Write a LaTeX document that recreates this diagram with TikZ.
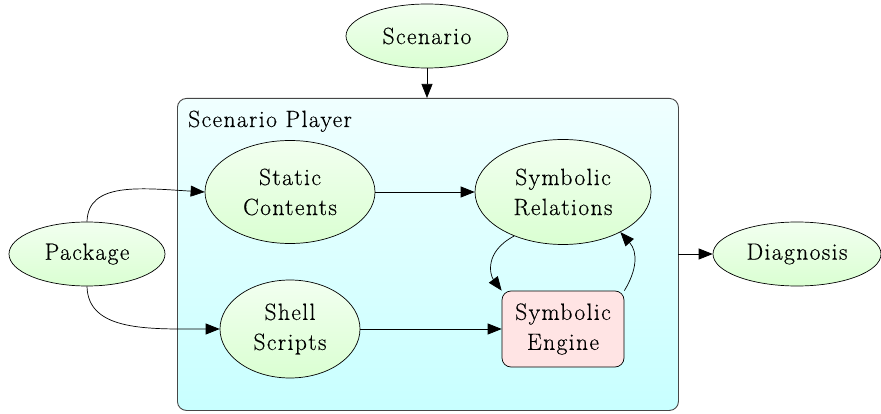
\documentclass[tikz,border=0pt]{standalone}
\usepackage{fontspec}
\setmainfont{Latin Modern Roman}[LetterSpace=6,FakeBold=0.4]
\usetikzlibrary{arrows.meta,shapes.geometric}
\definecolor{gtop}{RGB}{242,255,240}
\definecolor{gbot}{RGB}{218,255,210}
\definecolor{ctop}{RGB}{240,255,255}
\definecolor{cbot}{RGB}{200,255,255}
\definecolor{pinkfill}{RGB}{255,228,228}
\definecolor{clborder}{RGB}{70,70,70}
\tikzset{
  gv/.style={font=\fontsize{23.5}{30}\selectfont, align=center, inner sep=0pt},
  ell/.style={gv, ellipse, draw=black, line width=0.7pt, top color=gtop, bottom color=gbot},
  boxnode/.style={gv, rectangle, rounded corners=9pt, draw=black, line width=0.7pt, fill=pinkfill},
  cluster/.style={rectangle, rounded corners=9pt, draw=clborder, line width=0.9pt, top color=ctop, bottom color=cbot},
  edge/.style={line width=0.7pt, -{Triangle[length=14pt,width=11pt]}}
}
\begin{document}
\begin{tikzpicture}[x=1pt,y=-1pt]
\useasboundingbox (0,0) rectangle (881,414);
\node[cluster, minimum width=501pt, minimum height=312pt, anchor=north west] (cl) at (177,98) {};
\node[gv, anchor=base west] (cllabel) at (188,127) {Scenario Player};
\node[ell, minimum width=162pt, minimum height=64pt] (scen) at (427,36) {Scenario};
\node[ell, minimum width=156pt, minimum height=64pt] (pkg) at (87,254) {Package};
\node[ell, minimum width=170pt, minimum height=103pt] (stat) at (290,192) {Static\\Contents};
\node[ell, minimum width=176pt, minimum height=105pt] (rel) at (563,192) {Symbolic\\Relations};
\node[ell, minimum width=140pt, minimum height=98pt] (shell) at (290,329) {Shell\\Scripts};
\node[boxnode, minimum width=122pt, minimum height=76pt] (eng) at (563,329) {Symbolic\\Engine};
\node[ell, minimum width=168pt, minimum height=64pt] (diag) at (797,254) {Diagnosis};
\coordinate (clright) at (678,254);
\coordinate (cltop) at (427,98);
\draw[edge] (scen.south) -- (cltop);
\draw[edge] (pkg.north) .. controls (88,182) and (140,188) .. (stat.west);
\draw[edge] (pkg.south) .. controls (88,332) and (150,329) .. (shell.west);
\draw[edge] (stat.east) -- (rel.west);
\draw[edge] (shell.east) -- (eng.west);
\draw[edge] (rel.222) .. controls (484,252) and (490,275) .. (eng.north west);
\draw[edge] (eng.north east) .. controls (637,270) and (638,252) .. (rel.-35);
\draw[edge] (clright) -- (diag.west);
\end{tikzpicture}
\end{document}
